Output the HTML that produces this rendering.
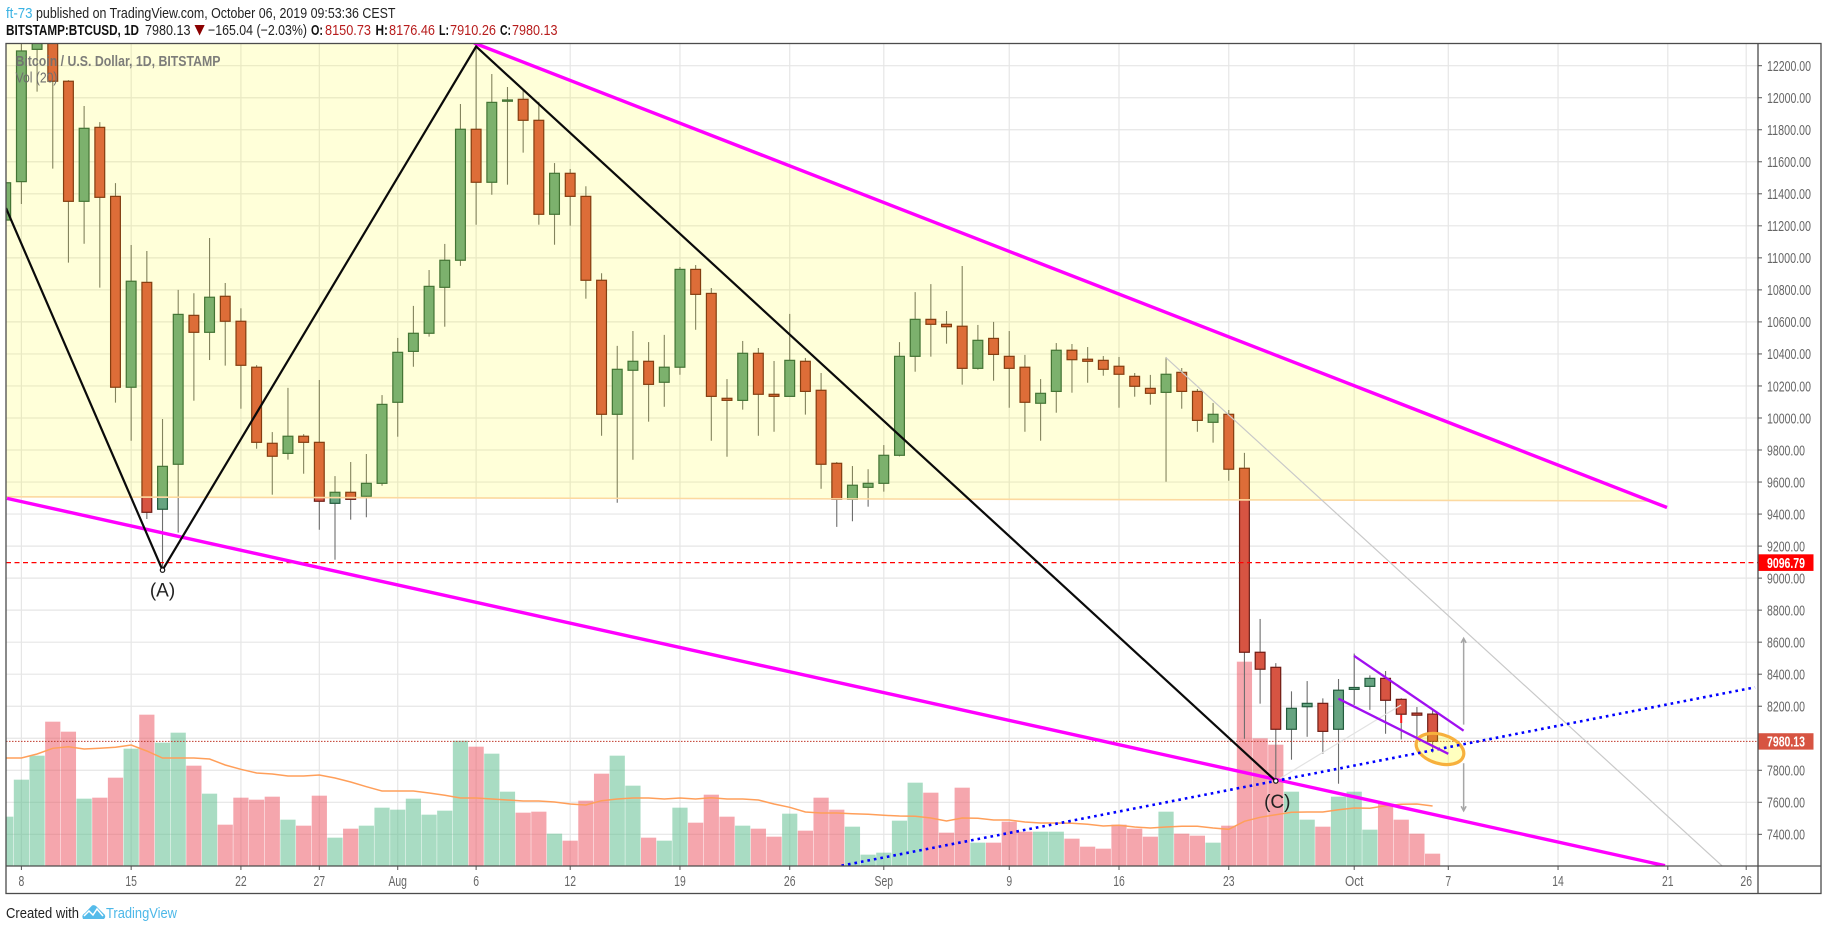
<!DOCTYPE html>
<html lang="en">
<head>
<meta charset="utf-8">
<title>BTCUSD chart</title>
<style>
html,body{margin:0;padding:0;background:#fff;width:1828px;height:930px;overflow:hidden}
svg{display:block;font-family:"Liberation Sans",Arial,sans-serif}
</style>
</head>
<body>
<svg id="chart" xmlns="http://www.w3.org/2000/svg" width="1828" height="930" viewBox="0 0 1828 930">
<defs><clipPath id="plot-clip"><rect x="6" y="43.5" width="1752" height="822.5"/></clipPath></defs>
<rect x="0" y="0" width="1828" height="930" fill="#fff"/>
<g font-size="14.5">
<text x="6" y="18" fill="#3bb3e4" textLength="26.5" lengthAdjust="spacingAndGlyphs">ft-73</text>
<text x="36" y="18" fill="#222" textLength="359.5" lengthAdjust="spacingAndGlyphs">published on TradingView.com, October 06, 2019 09:53:36 CEST</text>
</g>
<g font-size="14.5">
<text x="6" y="35" font-weight="bold" fill="#111" textLength="133" lengthAdjust="spacingAndGlyphs">BITSTAMP:BTCUSD, 1D</text>
<text x="145" y="35" fill="#222" textLength="45.5" lengthAdjust="spacingAndGlyphs">7980.13</text>
<polygon points="194.5,25 204.7,25 199.6,35.5" fill="#8b0000"/>
<text x="208" y="35" fill="#222" textLength="99" lengthAdjust="spacingAndGlyphs">−165.04 (−2.03%)</text>
<text x="311" y="35" font-weight="bold" fill="#111" textLength="12" lengthAdjust="spacingAndGlyphs">O:</text>
<text x="325" y="35" fill="#b71c1c" textLength="46" lengthAdjust="spacingAndGlyphs">8150.73</text>
<text x="375.5" y="35" font-weight="bold" fill="#111" textLength="12.5" lengthAdjust="spacingAndGlyphs">H:</text>
<text x="389" y="35" fill="#b71c1c" textLength="46" lengthAdjust="spacingAndGlyphs">8176.46</text>
<text x="439" y="35" font-weight="bold" fill="#111" textLength="10" lengthAdjust="spacingAndGlyphs">L:</text>
<text x="450" y="35" fill="#b71c1c" textLength="46" lengthAdjust="spacingAndGlyphs">7910.26</text>
<text x="500" y="35" font-weight="bold" fill="#111" textLength="11" lengthAdjust="spacingAndGlyphs">C:</text>
<text x="512" y="35" fill="#b71c1c" textLength="45.5" lengthAdjust="spacingAndGlyphs">7980.13</text>
</g>
<g id="grid"></g>
<g clip-path="url(#plot-clip)">
<g id="volume"></g>
<polyline id="volume-ma" fill="none" stroke="#ff9f5a" stroke-width="1.5"/>
<g id="candles"></g>
<g id="drawings"></g>
</g>
<text x="15.5" y="66" font-size="14.5" font-weight="bold" fill="#6f6f6f" fill-opacity=".9" textLength="205" lengthAdjust="spacingAndGlyphs">Bitcoin / U.S. Dollar, 1D, BITSTAMP</text>
<text x="15.5" y="82.5" font-size="14.5" fill="#6f6f6f" textLength="42" lengthAdjust="spacingAndGlyphs">Vol (20)</text>
<g id="axes" font-size="14.5" fill="#666"></g>
<rect x="6" y="43.5" width="1815" height="850" fill="none" stroke="#4c4c4c" stroke-width="1.3"/>
<line x1="1758" y1="43.5" x2="1758" y2="893.5" stroke="#4c4c4c" stroke-width="1.3"/>
<line x1="6" y1="866" x2="1821" y2="866" stroke="#4c4c4c" stroke-width="1.3"/>
<g font-size="15">
<text x="6" y="918" fill="#222" textLength="73" lengthAdjust="spacingAndGlyphs">Created with</text>
<path d="M83 919 Q81 915 85 913 L92 905.5 Q94 904.5 96 906 L103 913 Q107 916 104 919 Z" fill="#55bbea"/>
<polyline points="84,916 89,911 93,915 97,909 103,916" fill="none" stroke="#fff" stroke-width="1.5"/>
<text x="106" y="918" fill="#4db8e8" textLength="71" lengthAdjust="spacingAndGlyphs">TradingView</text>
</g>
</svg>
<script>
// Daily candles, first entry = 7 Jul 2019, last entry = 6 Oct 2019
const opens = [11236,11476,12302,12600,12103,11353,11815,11384,10192,10847,9430,9711,10641,10535,10760,10604,10317,9842,9779,9886,9848,9467,9536,9511,9592,10098,10416,10529,10816,10985,11803,11472,11978,11990,11859,11272,11528,11384,10860,10023,10298,10354,10223,10317,10928,10778,10123,10110,10404,10148,10135,10354,10173,9717,9492,9567,9592,9767,10385,10616,10585,10573,10310,10497,10385,10317,10092,10166,10423,10367,10360,10323,10260,10185,10160,10285,10166,9973,10023,9686,8537,8443,8056,8197,8218,8056,8305,8324,8374,8243,8157,8150.73];
const highs = [11600,12380,12700,12800,12110,11948,11848,11467,11080,11043,9994,10800,10779,11124,10843,10685,10330,9912,10188,9899,10237,9637,9725,9775,10143,10500,10700,10924,11087,11961,12320,12148,12067,12048,11975,11592,11555,11447,10904,10450,10543,10474,10519,10943,10955,10812,10243,10481,10437,10356,10650,10375,10281,9725,9700,9680,9831,10474,10786,10836,10668,10949,10581,10600,10543,10394,10243,10468,10462,10443,10387,10381,10281,10269,10381,10312,10181,10094,10050,9782,8745,8469,8293,8357,8249,8370,8529,8393,8420,8250,8195,8176.46];
const lows = [11150,11336,12038,11557,10970,11088,10814,10096,9858,9369,9050,9284,10108,10362,10327,10058,9808,9521,9740,9652,9302,9115,9365,9380,9577,9883,10320,10508,10570,10950,11207,11394,11457,11657,11207,11082,11201,10745,9889,9471,9739,9977,10070,10270,10551,9858,9758,10052,9889,9914,10135,10021,9558,9320,9355,9446,9540,9760,10289,10383,10464,10208,10302,10233,10064,9914,9858,10033,10158,10220,10264,10064,10133,10083,9602,10058,9914,9846,9608,7997,8216,7731,7866,8009,7903,7716,8208,8177,8028,7993,8009,7910.26];
const closes = [11469,12292,12600,12103,11353,11809,11378,10192,10854,9411,9698,10647,10535,10754,10604,10329,9848,9761,9886,9848,9480,9536,9492,9592,10085,10410,10529,10822,10985,11803,11472,11971,11986,11859,11272,11528,11384,10860,10023,10304,10354,10210,10317,10928,10772,10135,10110,10404,10148,10135,10360,10166,9711,9492,9580,9592,9767,10385,10616,10585,10570,10310,10485,10397,10310,10098,10154,10423,10364,10354,10304,10273,10198,10154,10273,10166,9985,10023,9680,8537,8431,8056,8187,8218,8043,8300,8317,8374,8237,8150,8144,7980.13];
// Volume in thousands and its 20-day average
const volumes = [14.8,25.9,33.1,43.3,40.3,20.2,20.5,26.5,35.2,45.4,37.0,40.0,30.1,21.7,12.4,20.5,19.9,20.8,13.9,12.1,21.1,8.5,11.2,12.1,17.5,16.9,20.2,15.4,16.6,37.6,35.8,33.7,22.3,16.0,16.3,9.7,7.6,19.6,27.7,33.1,24.1,8.5,7.6,17.5,13.0,21.4,14.8,12.1,11.2,8.8,15.7,10.6,20.5,16.9,11.8,3.4,4.0,13.6,25.0,22.0,10.0,23.5,7.0,7.0,13.3,10.3,10.3,10.3,8.2,5.8,5.2,12.4,11.2,8.8,16.3,9.7,9.1,7.0,12.1,61.3,38.3,36.4,22.3,13.9,11.8,20.8,22.3,10.9,18.7,13.9,9.7,3.7];
const volumeAverage = [32.4,32.4,33.6,35.3,35.8,35.1,35.3,35.6,36.3,34.5,32.4,32.4,32.4,32.1,30.3,29.0,27.9,27.6,27.0,27.0,27.3,26.4,25.2,23.8,22.5,22.5,22.5,21.9,21.2,20.4,20.4,20.1,19.8,19.5,19.5,19.2,18.6,18.3,19.6,20.1,20.4,20.4,20.1,20.4,20.1,20.5,20.1,20.1,19.8,18.6,17.6,16.2,15.9,15.9,15.7,15.5,15.2,15.0,14.9,14.4,13.5,14.4,14.3,13.8,13.8,13.2,12.9,12.9,12.8,12.5,12.0,12.2,11.7,11.4,11.7,11.9,11.9,11.4,11.0,13.4,14.6,15.4,16.1,16.2,16.2,16.9,17.4,17.3,18.1,18.5,18.6,18.0];
const firstDay = -1;
// Axis labels
const priceTicks = [12200,12000,11800,11600,11400,11200,11000,10800,10600,10400,10200,10000,9800,9600,9400,9200,9000,8800,8600,8400,8200,7800,7600,7400];
const unlabelledPrices = [8000];
const timeTickDays = [0,7,14,19,24,29,35,42,49,55,63,70,77,85,91,98,105,110];
const timeTickLabels = ['8','15','22','27','Aug','6','12','19','26','Sep','9','16','23','Oct','7','14','21','26'];
// Drawing anchors as [day, price]
const wavePoints = [[-0.98,11311],[9,9050],[29,12320],[80,7733]];
const upperChannel = [[28.87,12342],[104.95,9441]];
const lowerChannel = [[-0.92,9498],[104.82,7204]];
const blueTrend = [[52.3,7204],[110.56,8318]];
const grayTrend = [[72.97,10379],[108.45,7204]];
const lightTrend = [[80,7733],[87.99,8208]];
const flagUpper = [[84.99,8515],[91.98,8047]];
const flagLower = [[83.99,8247],[91,7903]];
const shadedArea = [[-1,12342],[28.87,12342],[103.86,9482],[-1,9508]];
const redWickMark = [[88,8145],[88,8095]];
const supportLevel = 9096.79;
const lastClose = 7980.13;

const NS = 'http://www.w3.org/2000/svg';
const xAt = d => 21.4 + d * 15.68;
const yAt = p => 65.7 + (12200 - p) * 0.16013;
const yVol = v => 866 - v * 3.3333;
const make = (tag, attrs, parent, text) => {
  const el = document.createElementNS(NS, tag);
  for (const k in attrs) el.setAttribute(k, attrs[k]);
  if (text !== undefined) el.textContent = text;
  parent.appendChild(el);
  return el;
};
const pts = arr => arr.map(a => xAt(a[0]).toFixed(1) + ',' + yAt(a[1]).toFixed(1)).join(' ');

const grid = document.getElementById('grid');
const axes = document.getElementById('axes');
unlabelledPrices.forEach(p => {
  const y = yAt(p);
  const gl = make('line', {x1: 6, y1: y, x2: 1758, y2: y, stroke: '#e6e6e6', 'stroke-width': 1.2}, grid);
  
  
});
priceTicks.forEach((p, i) => {
  const y = yAt(p);
  const gl = make('line', {x1: 6, y1: y, x2: 1758, y2: y, stroke: '#e6e6e6', 'stroke-width': 1.2}, grid);
  
  
  const tk = make('line', {x1: 1758, y1: y, x2: 1762, y2: y, stroke: '#555', 'stroke-width': 1}, axes);
  
  
  const label = p.toFixed(2);
  const lb = make('text', {x: 1767, y: y + 5.3, textLength: label.length === 8 ? 44 : 38, lengthAdjust: 'spacingAndGlyphs'}, axes, label);
  
  
});
timeTickDays.forEach((d, i) => {
  const x = xAt(d);
  const gl = make('line', {x1: x, y1: 44, x2: x, y2: 866, stroke: '#e6e6e6', 'stroke-width': 1.2}, grid);
  
  
  const tk = make('line', {x1: x, y1: 866, x2: x, y2: 870, stroke: '#555', 'stroke-width': 1}, axes);
  
  
  const label = timeTickLabels[i];
  const w = label.length === 3 ? 18.5 : label.length * 5.8;
  const lb = make('text', {x: x, y: 886, 'text-anchor': 'middle', textLength: w, lengthAdjust: 'spacingAndGlyphs'}, axes, label);
  
  
});

const volGroup = document.getElementById('volume');
const candleGroup = document.getElementById('candles');
volumes.forEach((v, i) => {
  const up = closes[i] >= opens[i];
  const x = xAt(firstDay + i);
  const y = yVol(v);
  const b = make('rect', {x: x - 7.6, y: y, width: 15.2, height: 866 - y, fill: up ? 'rgba(83,185,135,.5)' : 'rgba(235,77,92,.5)'}, volGroup);
  
  
});
document.getElementById('volume-ma').setAttribute('points', volumeAverage.map((v, i) => xAt(firstDay + i).toFixed(1) + ',' + yVol(v).toFixed(1)).join(' '));
opens.forEach((o, i) => {
  const c = closes[i];
  const up = c >= o;
  const x = xAt(firstDay + i);
  const g = make('g', {}, candleGroup);
  
  
  const w = make('line', {x1: x, y1: yAt(highs[i]), x2: x, y2: yAt(lows[i]), stroke: '#6e6e6e', 'stroke-width': 1.1}, g);
  
  
  const top = yAt(Math.max(o, c));
  const h = Math.max(yAt(Math.min(o, c)) - top, 1);
  const r = make('rect', {x: x - 4.9, y: top, width: 9.8, height: h, fill: up ? '#66a481' : '#d75442', stroke: up ? '#235c3e' : '#6f1d15', 'stroke-width': 1.2}, g);
  
  
});

const dr = document.getElementById('drawings');
const area = make('polygon', {points: pts(shadedArea), fill: 'rgba(255,255,0,.15)'}, dr);


const edge = make('line', {x1: xAt(shadedArea[3][0]), y1: yAt(shadedArea[3][1]), x2: xAt(shadedArea[2][0]), y2: yAt(shadedArea[2][1]), stroke: '#fcd9a0', 'stroke-width': 1.6}, dr);



const support = make('line', {x1: 6, y1: yAt(supportLevel), x2: 1758, y2: yAt(supportLevel), stroke: '#ff0000', 'stroke-width': 1.3, 'stroke-dasharray': '5 3.5'}, dr);


const lastLine = make('line', {x1: 6, y1: yAt(lastClose), x2: 1758, y2: yAt(lastClose), stroke: '#c0392b', 'stroke-width': 1, 'stroke-dasharray': '1.5 1.5'}, dr);



const gt = make('polyline', {points: pts(grayTrend), fill: 'none', stroke: '#c9c9c9', 'stroke-width': 1.2}, dr);


const lt = make('polyline', {points: pts(lightTrend), fill: 'none', stroke: '#e2e2e2', 'stroke-width': 1.2}, dr);


const rw = make('polyline', {points: pts(redWickMark), fill: 'none', stroke: '#ff1a1a', 'stroke-width': 2}, dr);


const uc = make('polyline', {points: pts(upperChannel), fill: 'none', stroke: '#ff00ff', 'stroke-width': 3.4}, dr);


const lc = make('polyline', {points: pts(lowerChannel), fill: 'none', stroke: '#ff00ff', 'stroke-width': 3.4}, dr);



const cx = xAt(90.47), cy = yAt(7933);
const oval = make('ellipse', {cx: cx, cy: cy, rx: 24.5, ry: 14.5, transform: 'rotate(17 ' + cx + ' ' + cy + ')', fill: 'rgba(255,255,0,.25)', stroke: '#f7b03c', 'stroke-width': 3.2}, dr);



const bt = make('polyline', {points: pts(blueTrend), fill: 'none', stroke: '#0000ff', 'stroke-width': 2.6, 'stroke-dasharray': '2.6 4'}, dr);


const fu = make('polyline', {points: pts(flagUpper), fill: 'none', stroke: '#a010f0', 'stroke-width': 2.3}, dr);


const fl = make('polyline', {points: pts(flagLower), fill: 'none', stroke: '#a010f0', 'stroke-width': 2.3}, dr);



const ax = xAt(91.98);
const upY = yAt(8624), upFrom = yAt(8085), dnFrom = yAt(7843.5), dnY = yAt(7547);
const a1 = make('path', {d: 'M' + ax + ' ' + upFrom + 'V' + upY + 'M' + (ax - 2.5) + ' ' + (upY + 4.5) + 'L' + ax + ' ' + upY + 'L' + (ax + 2.5) + ' ' + (upY + 4.5), fill: 'none', stroke: '#a6a6a6', 'stroke-width': 1.5}, dr);


const a2 = make('path', {d: 'M' + ax + ' ' + dnFrom + 'V' + dnY + 'M' + (ax - 2.5) + ' ' + (dnY - 4.5) + 'L' + ax + ' ' + dnY + 'L' + (ax + 2.5) + ' ' + (dnY - 4.5), fill: 'none', stroke: '#a6a6a6', 'stroke-width': 1.5}, dr);



const wave = make('polyline', {points: pts(wavePoints), fill: 'none', stroke: '#0a0a0a', 'stroke-width': 2.2, 'stroke-linejoin': 'miter'}, dr);


const pA = make('circle', {cx: xAt(wavePoints[1][0]), cy: yAt(wavePoints[1][1]), r: 2.2, fill: '#fff', stroke: '#111', 'stroke-width': 1.2}, dr);


const pC = make('circle', {cx: xAt(wavePoints[3][0]), cy: yAt(wavePoints[3][1]), r: 2.2, fill: '#fff', stroke: '#111', 'stroke-width': 1.2}, dr);


const lA = make('text', {x: xAt(wavePoints[1][0]), y: yAt(wavePoints[1][1]) + 26.5, 'text-anchor': 'middle', 'font-size': 19, fill: '#222'}, dr, '(A)');


const lC = make('text', {x: xAt(wavePoints[3][0]) + 1.5, y: yAt(wavePoints[3][1]) + 27, 'text-anchor': 'middle', 'font-size': 19, fill: '#222'}, dr, '(C)');



// Price tags on the axis
const t1 = make('rect', {x: 1758.5, y: yAt(supportLevel) - 8.3, width: 55, height: 16.6, fill: '#ff0000'}, axes);


const t1t = make('text', {x: 1767, y: yAt(supportLevel) + 5.3, fill: '#fff', 'font-weight': 'bold', textLength: 38, lengthAdjust: 'spacingAndGlyphs'}, axes, supportLevel.toFixed(2));


const t2 = make('rect', {x: 1758.5, y: yAt(lastClose) - 8.2, width: 55, height: 16.4, fill: '#d75442'}, axes);


const t2t = make('text', {x: 1767, y: yAt(lastClose) + 5.3, fill: '#fff', 'font-weight': 'bold', textLength: 38, lengthAdjust: 'spacingAndGlyphs'}, axes, lastClose.toFixed(2));


</script>
</body>
</html>
